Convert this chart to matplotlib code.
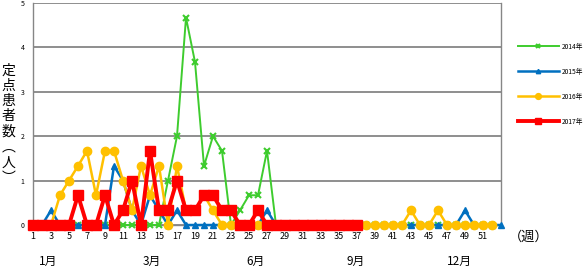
import matplotlib.pyplot as plt

plt.rcParams['font.family'] = ['Noto Sans CJK JP', 'DejaVu Sans']

# data: weekly values per sentinel site
weeks_2014 = list(range(1, 53))
vals_2014 = [0, 0, 0, 0, 0, 0, 0, 0, 0, 0,
             0, 0, 0, 0, 0, 1, 2, 4.67, 3.67, 1.33,
             2, 1.67, 0, 0.33, 0.67, 0.67, 1.67, 0, 0, 0,
             0, 0, 0, 0, 0, 0, 0, 0, 0, 0,
             0, 0, 0, 0, 0, 0, 0, 0, 0, 0,
             0, 0]
weeks_2015 = list(range(1, 54))
vals_2015 = [0, 0, 0.33, 0, 0, 0, 0, 0, 0, 1.33,
             1, 0.33, 0, 0.67, 0.33, 0, 0.33, 0, 0, 0,
             0, 0, 0, 0, 0, 0, 0.33, 0, 0, 0,
             0, 0, 0, 0, 0, 0, 0, 0, 0, 0,
             0, 0, 0, 0, 0, 0, 0, 0, 0.33, 0,
             0, 0, 0]
weeks_2016 = list(range(1, 53))
vals_2016 = [0, 0, 0, 0.67, 1, 1.33, 1.67, 0.67, 1.67, 1.67,
             1, 0.33, 1.33, 0.67, 1.33, 0, 1.33, 0.33, 0.33, 0.67,
             0.33, 0, 0, 0, 0, 0, 0, 0, 0, 0,
             0, 0, 0, 0, 0, 0, 0, 0, 0, 0,
             0, 0, 0.33, 0, 0, 0.33, 0, 0, 0, 0,
             0, 0]
weeks_2017 = list(range(1, 38))
vals_2017 = [0, 0, 0, 0, 0, 0.67, 0, 0, 0.67, 0,
             0.33, 1, 0, 1.67, 0.33, 0.33, 1, 0.33, 0.33, 0.67,
             0.67, 0.33, 0.33, 0, 0, 0.33, 0, 0, 0, 0,
             0, 0, 0, 0, 0, 0, 0]

xtick_labels = [str(w) for w in range(1, 53, 2)]
month_labels = ['1月', '3月', '6月', '9月', '12月']
month_pos = [2.7, 14.2, 25.7, 36.8, 48.4]

fig = plt.figure(figsize=(5.86, 2.67), dpi=100)
ax = fig.add_axes([33/586, 42/267, 468/586, 222/267])

ax.plot(weeks_2014, vals_2014, color='#3ECC2E', lw=1.4, marker='x', ms=4, mew=1.5, label='2014年', zorder=3, clip_on=False)
ax.plot(weeks_2015, vals_2015, color='#0070C0', lw=1.8, marker='^', ms=4.5, label='2015年', zorder=4, clip_on=False)
ax.plot(weeks_2016, vals_2016, color='#FFC000', lw=1.8, marker='o', ms=6, label='2016年', zorder=5, clip_on=False)
ax.plot(weeks_2017, vals_2017, color='#FF0000', lw=2.8, marker='s', ms=6.5, label='2017年', zorder=6, clip_on=False)

ax.set_xlim(1, 53)
ax.set_ylim(0, 5)
ax.set_yticks(range(0, 6))
ax.yaxis.grid(True, color='#868686', lw=1.3)
ax.set_axisbelow(True)
ax.set_xticks(range(1, 53, 2))
ax.set_xticklabels(xtick_labels, fontsize=6.5)
ax.tick_params(axis='x', length=0, pad=5)
ax.tick_params(axis='y', length=0, labelsize=5, pad=6)
for s in ['left', 'right', 'bottom']:
    ax.spines[s].set_color('#868686')
    ax.spines[s].set_linewidth(1)
ax.spines['top'].set_visible(False)

ax.text(1.016, -0.055, '（週）', transform=ax.transAxes, fontsize=9.5, va='center', ha='left')
for m, p in zip(month_labels, month_pos):
    ax.text(p, -0.165, m, transform=ax.get_xaxis_transform(), fontsize=8.5, ha='center', va='center')

fig.text(0.014, 0.535, '\n'.join('定点患者数︵人︶'), fontsize=10, ha='center', va='center', linespacing=1.12)

fig.legend(loc='upper left', bbox_to_anchor=(515/586, 1 - 40/267), frameon=False, borderaxespad=0,
           fontsize=4.8, handlelength=6.2, labelspacing=2.55, handletextpad=0.35, markerscale=0.7)

fig.savefig('out.png', dpi=100)
